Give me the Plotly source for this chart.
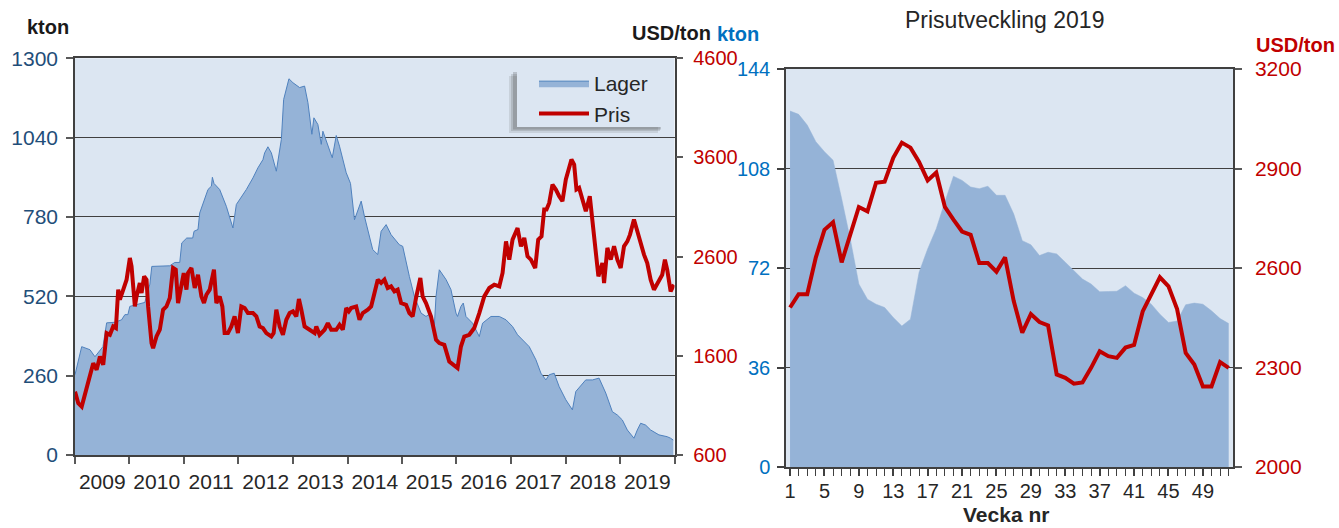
import pandas as pd
import plotly.graph_objects as go

W, H = 1339, 528
FONT = "Liberation Sans, Arial, sans-serif"

# ---------------- data: left chart (2009-2019) ----------------
stock_year = [2009.000, 2009.123, 2009.275, 2009.366, 2009.513, 2009.581, 2009.733, 2009.855,
              2009.916, 2009.971, 2010.007, 2010.190, 2010.282, 2010.374, 2010.410, 2010.740,
              2010.832, 2010.923, 2010.960, 2011.051, 2011.161, 2011.185, 2011.258, 2011.289,
              2011.350, 2011.441, 2011.504, 2011.522, 2011.551, 2011.656, 2011.778, 2011.899,
              2011.962, 2012.022, 2012.145, 2012.266, 2012.357, 2012.449, 2012.480, 2012.540,
              2012.603, 2012.694, 2012.723, 2012.786, 2012.828, 2012.925, 2012.998, 2013.121,
              2013.212, 2013.273, 2013.346, 2013.383, 2013.456, 2013.518, 2013.548, 2013.639,
              2013.720, 2013.793, 2013.853, 2013.976, 2014.055, 2014.128, 2014.251, 2014.311,
              2014.463, 2014.555, 2014.617, 2014.709, 2014.800, 2014.952, 2015.013, 2015.136,
              2015.227, 2015.350, 2015.441, 2015.533, 2015.593, 2015.625, 2015.685, 2015.808,
              2015.899, 2015.991, 2016.020, 2016.082, 2016.125, 2016.174, 2016.295, 2016.418,
              2016.478, 2016.632, 2016.784, 2016.907, 2017.027, 2017.119, 2017.211, 2017.333,
              2017.456, 2017.548, 2017.639, 2017.700, 2017.791, 2017.883, 2018.005, 2018.126,
              2018.188, 2018.310, 2018.370, 2018.493, 2018.615, 2018.738, 2018.859, 2018.951,
              2019.042, 2019.134, 2019.256, 2019.317, 2019.379, 2019.470, 2019.562, 2019.714,
              2019.866, 2019.929, 2019.976]
stock_kton = [263, 355, 345, 322, 355, 433, 435, 443,
              460, 460, 487, 495, 500, 560, 618, 620,
              631, 631, 695, 711, 711, 733, 739, 793,
              826, 870, 881, 910, 890, 870, 815, 744,
              821, 837, 870, 908, 941, 968, 990, 1010,
              990, 930, 968, 1034, 1165, 1233, 1220, 1204,
              1209, 1155, 1051, 1105, 1083, 1018, 1061, 1018,
              974, 1047, 1012, 925, 890, 771, 832, 782,
              673, 657, 733, 755, 722, 689, 684, 585,
              520, 465, 454, 465, 421, 520, 607, 575,
              542, 465, 454, 487, 498, 454, 432, 388,
              432, 454, 454, 443, 421, 394, 378, 355,
              312, 268, 246, 263, 268, 224, 181, 148,
              208, 235, 246, 246, 252, 203, 142, 131,
              115, 82, 55, 82, 104, 98, 82, 66,
              60, 55, 49]

price_year = [2009.000, 2009.060, 2009.123, 2009.183, 2009.275, 2009.335, 2009.397, 2009.458,
              2009.518, 2009.581, 2009.641, 2009.701, 2009.751, 2009.793, 2009.824, 2009.916,
              2009.947, 2010.007, 2010.038, 2010.099, 2010.130, 2010.190, 2010.222, 2010.269,
              2010.313, 2010.342, 2010.405, 2010.434, 2010.496, 2010.557, 2010.617, 2010.679,
              2010.740, 2010.800, 2010.850, 2010.892, 2010.954, 2010.996, 2011.046, 2011.075,
              2011.137, 2011.198, 2011.258, 2011.321, 2011.368, 2011.412, 2011.473, 2011.504,
              2011.551, 2011.595, 2011.656, 2011.705, 2011.747, 2011.808, 2011.870, 2011.930,
              2011.991, 2012.053, 2012.114, 2012.174, 2012.266, 2012.328, 2012.388, 2012.449,
              2012.511, 2012.603, 2012.645, 2012.694, 2012.755, 2012.815, 2012.877, 2012.938,
              2012.998, 2013.060, 2013.108, 2013.152, 2013.212, 2013.304, 2013.396, 2013.427,
              2013.487, 2013.579, 2013.639, 2013.701, 2013.793, 2013.853, 2013.914, 2013.976,
              2014.024, 2014.066, 2014.159, 2014.220, 2014.280, 2014.372, 2014.434, 2014.495,
              2014.555, 2014.617, 2014.678, 2014.738, 2014.800, 2014.861, 2014.921, 2014.984,
              2015.075, 2015.136, 2015.196, 2015.258, 2015.337, 2015.379, 2015.441, 2015.533,
              2015.625, 2015.685, 2015.777, 2015.868, 2015.960, 2016.020, 2016.082, 2016.143,
              2016.234, 2016.326, 2016.418, 2016.509, 2016.601, 2016.692, 2016.784, 2016.844,
              2016.907, 2016.967, 2017.027, 2017.119, 2017.181, 2017.242, 2017.302, 2017.364,
              2017.443, 2017.498, 2017.559, 2017.608, 2017.650, 2017.700, 2017.760, 2017.822,
              2017.883, 2017.943, 2018.005, 2018.066, 2018.108, 2018.158, 2018.200, 2018.249,
              2018.310, 2018.372, 2018.445, 2018.493, 2018.555, 2018.603, 2018.676, 2018.707,
              2018.768, 2018.830, 2018.890, 2018.951, 2019.012, 2019.073, 2019.134, 2019.183,
              2019.256, 2019.317, 2019.379, 2019.440, 2019.500, 2019.562, 2019.623, 2019.714,
              2019.775, 2019.824, 2019.866, 2019.929, 2019.989]
price_usd = [1239, 1122, 1088, 1206, 1391, 1526, 1459, 1593,
             1509, 1829, 1812, 1896, 1880, 2267, 2166, 2334,
             2368, 2587, 2502, 2098, 2199, 2334, 2233, 2401,
             2368, 2098, 1728, 1678, 1795, 1863, 2065, 2098,
             2183, 2486, 2469, 2132, 2300, 2435, 2267, 2435,
             2486, 2284, 2418, 2199, 2132, 2216, 2267, 2368,
             2469, 2132, 2199, 2098, 1829, 1829, 1896, 1997,
             1829, 2098, 2082, 2031, 2031, 1997, 1896, 1880,
             1829, 1795, 1829, 2065, 1896, 1812, 1964, 2031,
             2048, 1997, 2173, 2065, 1896, 1863, 1829, 1896,
             1812, 1863, 1930, 1863, 1863, 1913, 1863, 2082,
             2048, 2082, 2098, 1964, 2031, 2065, 2098, 2233,
             2368, 2334, 2368, 2284, 2300, 2250, 2267, 2132,
             2115, 2031, 1997, 2183, 2385, 2199, 2132, 1997,
             1762, 1728, 1711, 1542, 1509, 1476, 1694, 1795,
             1812, 1880, 2031, 2199, 2284, 2317, 2300, 2435,
             2754, 2570, 2772, 2889, 2704, 2789, 2603, 2570,
             2486, 2772, 2805, 3075, 3075, 3142, 3327, 3277,
             3209, 3159, 3378, 3479, 3580, 3529, 3277, 3293,
             3176, 3058, 3209, 2940, 2603, 2401, 2536, 2334,
             2688, 2570, 2704, 2570, 2486, 2704, 2754, 2822,
             2974, 2855, 2704, 2620, 2536, 2368, 2267, 2350,
             2418, 2570, 2469, 2250, 2317]

# ---------------- data: right chart (weeks of 2019) ----------------
weeks = list(range(1, 53))
week_stock_kton = [128.8, 127.6, 123.7, 117.7, 114.1, 111.0, 97.1, 82.5, 66.2, 60.7,
                   58.9, 57.7, 54.1, 51.0, 53.5, 70.4, 78.9, 86.2, 95.9, 105.2,
                   103.7, 101.3, 100.7, 101.6, 98.3, 98.3, 91.6, 81.9, 80.4, 76.5,
                   77.7, 77.1, 74.1, 71.0, 68.0, 66.2, 63.4, 63.5, 63.6, 65.6,
                   62.9, 61.3, 58.9, 55.3, 52.3, 52.8, 58.7, 59.3, 58.9, 56.5,
                   53.7, 51.9]
week_price_usd = [2481, 2521, 2521, 2632, 2715, 2738, 2617, 2698, 2784, 2771,
                  2857, 2860, 2932, 2978, 2963, 2920, 2864, 2888, 2784, 2746,
                  2710, 2700, 2615, 2615, 2589, 2632, 2501, 2405, 2461, 2437,
                  2427, 2279, 2269, 2251, 2255, 2299, 2349, 2334, 2329, 2360,
                  2368, 2469, 2519, 2572, 2545, 2476, 2344, 2309, 2243, 2243,
                  2316, 2299]


def to_date(t):
    y = int(t)
    a = pd.Timestamp(y, 1, 1)
    b = pd.Timestamp(y + 1, 1, 1)
    return a + (b - a) * (t - y)


def px(x):
    return x / W


def py(y):
    return 1 - y / H


stock_dates = [to_date(t) for t in stock_year]
price_dates = [to_date(t) for t in price_year]

AREA_FILL = "#95B3D7"
AREA_LINE = "#4F81BD"
RED = "#C00000"
BG = "#DCE6F2"
AXC = "#404040"
TICKC = "#595959"
DARKBLUE = "#1F4E79"
BLUE = "#0070C0"
TXT = "#262626"
TS = 21

fig = go.Figure()

fig.add_trace(go.Scatter(x=stock_dates, y=stock_kton, name="Lager", mode="lines",
                         line=dict(color=AREA_LINE, width=1), fill="tozeroy",
                         fillcolor=AREA_FILL, xaxis="x", yaxis="y"))
fig.add_trace(go.Scatter(x=price_dates, y=price_usd, name="Pris", mode="lines",
                         line=dict(color=RED, width=4), xaxis="x", yaxis="y2"))
fig.add_trace(go.Scatter(x=weeks, y=week_stock_kton, name="Lager 2019", mode="lines",
                         line=dict(color=AREA_FILL, width=0.5), fill="tozeroy",
                         fillcolor=AREA_FILL, xaxis="x2", yaxis="y3", showlegend=False))
fig.add_trace(go.Scatter(x=weeks, y=week_price_usd, name="Pris 2019", mode="lines",
                         line=dict(color=RED, width=4), xaxis="x2", yaxis="y4",
                         showlegend=False))

L_X = [px(75), px(674.5)]
L_Y = [py(455), py(58.3)]
R_X = [px(786), px(1233)]
R_Y = [py(467), py(69)]

date_range = ["2009-01-01", "2020-01-01"]

fig.update_layout(
    width=W, height=H,
    margin=dict(l=0, r=0, t=0, b=0, pad=0, autoexpand=False),
    paper_bgcolor="white", plot_bgcolor=BG,
    font=dict(family=FONT, color=TXT),
    xaxis=dict(domain=L_X, anchor="y", type="date", range=date_range,
               tick0="2009-01-01", dtick="M12", tickformat="%Y", ticklabelmode="period",
               ticks="outside", ticklen=7, tickwidth=1.5, tickcolor=TICKC,
               showline=True, linecolor=AXC, linewidth=1.5, mirror=True,
               showgrid=False, zeroline=False,
               tickfont=dict(family=FONT, size=TS, color=TXT)),
    yaxis=dict(domain=L_Y, anchor="x", range=[0, 1300], tick0=0, dtick=260,
               showgrid=True, gridcolor=AXC, gridwidth=1,
               ticks="outside", ticklen=7, tickwidth=1.5, tickcolor=TICKC,
               ticklabelstandoff=4,
               showline=True, linecolor=AXC, linewidth=1.5, zeroline=False,
               tickfont=dict(family=FONT, size=TS, color=DARKBLUE)),
    yaxis2=dict(overlaying="y", side="right", anchor="x", range=[600, 4600], tick0=600,
                dtick=1000, showgrid=False, zeroline=False,
                ticks="outside", ticklen=7, tickwidth=1.5, tickcolor=TICKC,
                ticklabelstandoff=6,
                showline=True, linecolor=AXC, linewidth=1.5,
                tickfont=dict(family=FONT, size=20, color=RED)),
    xaxis3=dict(overlaying="x", anchor="y", type="date", range=date_range,
                tick0="2009-01-01", dtick="M12", ticks="inside", ticklen=7, tickwidth=1.5,
                tickcolor=TICKC, showticklabels=False, showline=False, showgrid=False,
                zeroline=False),
    yaxis5=dict(overlaying="y", anchor="x", range=[0, 1300], tick0=0, dtick=260,
                ticks="inside", ticklen=7, tickwidth=1.5, tickcolor=TICKC,
                showticklabels=False, showline=False, showgrid=False, zeroline=False),
    yaxis6=dict(overlaying="y", side="right", anchor="x", range=[600, 4600], tick0=600,
                dtick=1000, ticks="inside", ticklen=7, tickwidth=1.5, tickcolor=TICKC,
                showticklabels=False, showline=False, showgrid=False, zeroline=False),
    xaxis2=dict(domain=R_X, anchor="y3", range=[0.53, 52.5], tick0=1, dtick=4,
                ticks="outside", ticklen=7, tickwidth=1.5, tickcolor=AXC,
                ticklabelstandoff=-2,
                minor=dict(tick0=1, dtick=1, ticks="outside", ticklen=7, tickwidth=1.2,
                           tickcolor=AXC),
                showline=True, linecolor=AXC, linewidth=1.5, mirror=True,
                showgrid=False, zeroline=False,
                tickfont=dict(family=FONT, size=20, color=TXT)),
    yaxis3=dict(domain=R_Y, anchor="x2", range=[0, 144], tick0=0, dtick=36,
                showgrid=True, gridcolor=AXC, gridwidth=1,
                ticks="outside", ticklen=7, tickwidth=1.5, tickcolor=AXC,
                ticklabelstandoff=3,
                showline=True, linecolor=AXC, linewidth=1.5, zeroline=False,
                tickfont=dict(family=FONT, size=20, color=BLUE)),
    yaxis4=dict(overlaying="y3", side="right", anchor="x2", range=[2000, 3200], tick0=2000,
                dtick=300, showgrid=False, zeroline=False,
                ticks="outside", ticklen=7, tickwidth=1.5, tickcolor=TICKC,
                ticklabelstandoff=9,
                showline=True, linecolor=AXC, linewidth=1.5,
                tickfont=dict(family=FONT, size=TS, color=RED)),
    xaxis4=dict(overlaying="x2", anchor="y3", range=[0.53, 52.5], tick0=1, dtick=4,
                ticks="inside", ticklen=7, tickwidth=1.5, tickcolor=AXC,
                minor=dict(tick0=1, dtick=1, ticks="inside", ticklen=7, tickwidth=1.2,
                           tickcolor=AXC),
                showticklabels=False, showline=False, showgrid=False, zeroline=False),
    yaxis7=dict(overlaying="y3", anchor="x2", range=[0, 144], tick0=0, dtick=36,
                ticks="inside", ticklen=7, tickwidth=1.5, tickcolor=AXC,
                showticklabels=False, showline=False, showgrid=False, zeroline=False),
    yaxis8=dict(overlaying="y3", side="right", anchor="x2", range=[2000, 3200], tick0=2000,
                dtick=300, ticks="inside", ticklen=7, tickwidth=1.5, tickcolor=TICKC,
                showticklabels=False, showline=False, showgrid=False, zeroline=False),
    legend=dict(x=px(534), y=py(63), xanchor="left", yanchor="top",
                bgcolor="rgba(0,0,0,0)", borderwidth=0,
                font=dict(family=FONT, size=TS, color=TXT),
                itemwidth=50, tracegroupgap=0),
    showlegend=True,
)

# legend box with a soft drop shadow (down-left)
for (x0, x1, y0, y1, a) in [(509, 658, 133, 76, 0.12), (511, 660, 131, 74, 0.16),
                            (513, 661, 129.5, 72, 0.22)]:
    fig.add_shape(type="rect", xref="paper", yref="paper",
                  x0=px(x0), x1=px(x1), y0=py(y0), y1=py(y1),
                  fillcolor=f"rgba(60,60,60,{a})", line=dict(width=0), layer="above")
fig.add_shape(type="rect", xref="paper", yref="paper",
              x0=px(517), x1=px(663), y0=py(127), y1=py(70),
              fillcolor=BG, line=dict(width=0), layer="above")

ann = [
    dict(text="<b>kton</b>", x=px(48), y=py(27), color="#1a1a1a", size=20),
    dict(text="<b>USD/ton</b>", x=px(671), y=py(33), color="#1a1a1a", size=20),
    dict(text="<b>kton</b>", x=px(738), y=py(34), color=BLUE, size=20),
    dict(text="<b>USD/ton</b>", x=px(1295), y=py(45), color=RED, size=20),
    dict(text="Prisutveckling 2019", x=px(1005), y=py(20), color=TXT, size=23),
    dict(text="<b>Vecka nr</b>", x=px(1006), y=py(514.5), color=TXT, size=21),
]
for a in ann:
    fig.add_annotation(text=a["text"], x=a["x"], y=a["y"], xref="paper", yref="paper",
                       xanchor="center", yanchor="middle", showarrow=False,
                       font=dict(family=FONT, size=a["size"], color=a["color"]))

fig.write_html("out.html",
               config={"displayModeBar": False},
               post_script="document.body.style.margin='0px';"
                           "document.body.style.overflow='hidden';")
